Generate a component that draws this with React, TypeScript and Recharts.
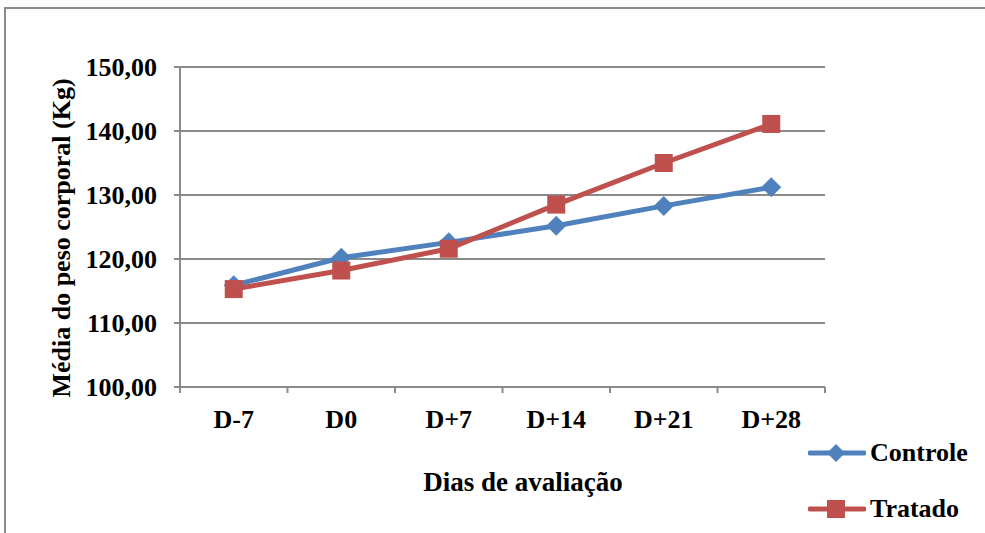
import React from 'react';
import {
  LineChart,
  Line,
  XAxis,
  YAxis,
  CartesianGrid,
  Legend,
  Label,
} from 'recharts';

const days = ['D-7', 'D0', 'D+7', 'D+14', 'D+21', 'D+28'];
const controle = [115.9, 120.2, 122.6, 125.2, 128.3, 131.2];
const tratado = [115.3, 118.2, 121.6, 128.5, 135.0, 141.1];
const yTicks = [100, 110, 120, 130, 140, 150];

const BLUE = '#4F81BD';
const RED = '#C0504D';
const GRAY = '#8a8a8a';
const FONT = '"Liberation Serif", "Times New Roman", serif';

// category i sits in the middle of the band [i, i+1]
const data = days.map((d, i) => ({
  x: i + 0.5,
  day: d,
  controle: controle[i],
  tratado: tratado[i],
}));

// band edges get a tick mark, band centres get the day label
const xTicks = [0, 0.5, 1, 1.5, 2, 2.5, 3, 3.5, 4, 4.5, 5, 5.5, 6];

function fmt(v: number): string {
  return v.toFixed(2).replace('.', ',');
}

function XTick(props: any) {
  const { x, y, payload } = props;
  const v = payload.value as number;
  if (Number.isInteger(v)) {
    return <line x1={x} x2={x} y1={y} y2={y + 6} stroke={GRAY} strokeWidth={2} />;
  }
  return (
    <text
      x={x}
      y={y + 41}
      textAnchor="middle"
      fontFamily={FONT}
      fontWeight="bold"
      fontSize={26}
      fill="#000"
    >
      {days[Math.floor(v)]}
    </text>
  );
}

function YTick(props: any) {
  const { x, y, payload } = props;
  return (
    <text
      x={x - 11}
      y={y}
      dy="0.35em"
      textAnchor="end"
      fontFamily={FONT}
      fontWeight="bold"
      fontSize={26}
      fill="#000"
    >
      {fmt(payload.value)}
    </text>
  );
}

function Diamond(props: any) {
  const { cx, cy } = props;
  if (cx == null || cy == null) return null;
  const r = 10;
  return (
    <polygon
      key={props.key}
      points={`${cx},${cy - r} ${cx + r},${cy} ${cx},${cy + r} ${cx - r},${cy}`}
      fill={BLUE}
    />
  );
}

function Square(props: any) {
  const { cx, cy } = props;
  if (cx == null || cy == null) return null;
  const h = 9;
  return <rect key={props.key} x={cx - h} y={cy - h} width={h * 2} height={h * 2} fill={RED} />;
}

function LegendBox() {
  const items = [
    { name: 'Controle', color: BLUE, shape: 'diamond' },
    { name: 'Tratado', color: RED, shape: 'square' },
  ];
  return (
    <div style={{ fontFamily: FONT, fontWeight: 'bold', fontSize: 26 }}>
      {items.map((it) => (
        <div key={it.name} style={{ display: 'flex', alignItems: 'center', height: 56 }}>
          <svg width={58} height={24} style={{ marginRight: 4 }}>
            <line x1={2} x2={56} y1={12} y2={12} stroke={it.color} strokeWidth={5} strokeLinecap="round" />
            {it.shape === 'diamond' ? (
              <polygon points="28,3 37,12 28,21 19,12" fill={it.color} />
            ) : (
              <rect x={19} y={3} width={18} height={18} fill={it.color} />
            )}
          </svg>
          <span>{it.name}</span>
        </div>
      ))}
    </div>
  );
}

export default function App() {
  return (
    <div
      style={{
        position: 'absolute',
        left: 0,
        top: 0,
        width: 985,
        height: 533,
        overflow: 'hidden',
        background: '#fff',
      }}
    >
      <div
        style={{
          position: 'absolute',
          left: 4,
          top: 7,
          width: 1100,
          height: 700,
          border: `2px solid ${GRAY}`,
        }}
      />
      <LineChart
        width={985}
        height={533}
        data={data}
        margin={{ top: 67, right: 160, bottom: 0, left: 0 }}
        style={{ position: 'absolute', left: 0, top: 0 }}
      >
        <CartesianGrid vertical={false} stroke={GRAY} strokeWidth={2} />
        <XAxis
          dataKey="x"
          type="number"
          domain={[0, 6]}
          ticks={xTicks}
          interval={0}
          height={146}
          tickLine={false}
          tickSize={0}
          tickMargin={0}
          axisLine={{ stroke: GRAY, strokeWidth: 2 }}
          tick={<XTick />}
        >
          <Label
            content={() => (
              <text
                x={523}
                y={491}
                textAnchor="middle"
                fontFamily={FONT}
                fontWeight="bold"
                fontSize={27}
                fill="#000"
              >
                Dias de avaliação
              </text>
            )}
          />
        </XAxis>
        <YAxis
          type="number"
          domain={[100, 150]}
          ticks={yTicks}
          interval={0}
          width={180}
          tickSize={6}
          tickMargin={6}
          axisLine={{ stroke: GRAY, strokeWidth: 2 }}
          tickLine={{ stroke: GRAY, strokeWidth: 2 }}
          tick={<YTick />}
        >
          <Label
            content={() => (
              <text
                x={70}
                y={238}
                transform="rotate(-90 70 238)"
                textAnchor="middle"
                fontFamily={FONT}
                fontWeight="bold"
                fontSize={26}
                fill="#000"
              >
                Média do peso corporal (Kg)
              </text>
            )}
          />
        </YAxis>
        <Legend
          layout="vertical"
          align="center"
          verticalAlign="middle"
          content={<LegendBox />}
          wrapperStyle={{ left: 808, top: 425, width: 177, height: 112 }}
        />
        <Line
          name="Controle"
          dataKey="controle"
          stroke={BLUE}
          strokeWidth={5}
          dot={Diamond}
          activeDot={false}
          isAnimationActive={false}
        />
        <Line
          name="Tratado"
          dataKey="tratado"
          stroke={RED}
          strokeWidth={5}
          dot={Square}
          activeDot={false}
          isAnimationActive={false}
        />
      </LineChart>
    </div>
  );
}
